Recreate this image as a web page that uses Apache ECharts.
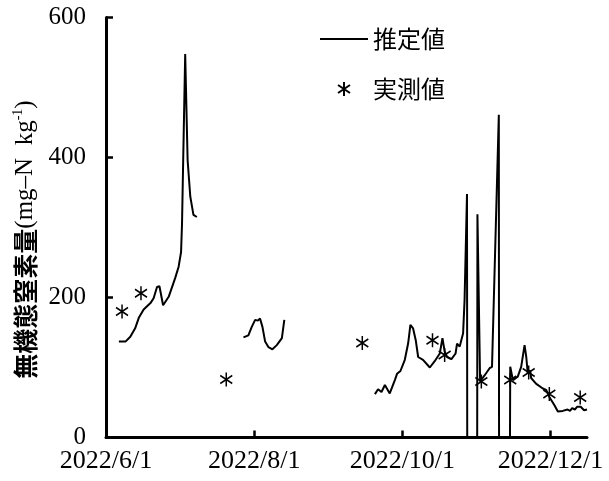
<!DOCTYPE html>
<html>
<head>
<meta charset="utf-8">
<script src="https://cdn.jsdelivr.net/npm/echarts@6/dist/echarts.min.js"></script>
<style>
html, body { margin: 0; padding: 0; background: #fff; }
#chart { width: 609px; height: 481px; }
</style>
</head>
<body>
<div id="chart"></div>
<script>
// days counted from 2022/6/1
const xTickDays = [0, 61, 122, 183]
const xTickLabels = ['2022/6/1', '2022/8/1', '2022/10/1', '2022/12/1']
const yTicks = [0, 200, 400, 600]

// 推定値 (gaps between the three periods)
const estDays1 = [5.3, 8, 10, 12, 13.5, 15.5, 18.3, 19.6, 21, 22, 23.5, 25.8, 28.5, 29.9, 30.9, 31.3, 31.7, 32.6, 33.6, 34.7, 36, 37.4]
const estVals1 = [137, 137, 144, 156, 171, 183, 192, 199, 215, 216, 189, 201, 228, 244, 265, 306, 382, 548, 396, 344, 318, 315]

const estDays2 = [56.6, 58.6, 60, 61.4, 62.5, 63.4, 64.4, 65.5, 66.9, 68.5, 70.3, 72.4, 73.4]
const estVals2 = [143, 146, 158, 168, 167, 170, 158, 137, 129, 126, 132, 142, 168]

const estDays3 = [110.7, 112, 113.4, 114.8, 116.8, 118.9, 119.8, 121.2, 123, 124.4, 125.3, 126.4, 127.5, 128.5, 130.5, 133.3, 135.3, 137.4, 138.5, 139.4, 140.4, 142.2, 143.9, 144.5, 145.6, 146.3, 147, 147.6, 148.6, 148.7, 152.8, 152.9, 154, 155.9, 157.9, 158.9, 161.7, 161.8, 166.3, 166.4, 167.5, 169.5, 170.9, 172.3, 173, 173.6, 174.6, 175, 177, 179.8, 181.2, 182.5, 184.6, 186, 188, 190, 191, 191.9, 193, 194, 195.4, 196.8, 198]
const estVals3 = [62, 69, 65, 75, 63, 82, 91, 95, 111, 135, 161, 156, 139, 115, 111, 100, 109, 120, 142, 123, 115, 112, 120, 134, 130, 132, 149, 196, 348, 0, 0, 319, 80, 89, 99, 101, 461, 0, 0, 101, 82, 87, 101, 132, 115, 92, 96, 85, 77, 70, 68, 58, 46, 37, 38, 40, 38, 42, 40, 44, 44, 39, 40]

// 実測値
const obsDays = [6.6, 14.4, 49.5, 105.5, 134.4, 139.4, 154.5, 166.4, 174, 182.5, 195.2]
const obsVals = [180, 206, 83, 135, 139, 118, 80, 82, 93, 62, 57]

const starPath = 'path://M6 0 L6 14 M0 3 L12 11 M0 11 L12 3'
const linePath = 'path://M0 0 L48 0 L48 2 L0 2 Z'

function pairs (days, vals) {
  return days.map(function (d, i) { return [d, vals[i]] })
}

let estData = pairs(estDays1, estVals1)
  .concat([[46, '-']])
  .concat(pairs(estDays2, estVals2))
  .concat([[90, '-']])
  .concat(pairs(estDays3, estVals3))

let chartDom = document.getElementById('chart')
let myChart = echarts.init(chartDom)
let option

option = {
  animation: false,
  grid: {
    left: 106,
    right: 22,
    top: 17.5,
    bottom: 43.5
  },
  legend: {
    orient: 'vertical',
    left: 320,
    top: 26,
    padding: 0,
    itemWidth: 48,
    itemHeight: 14,
    itemGap: 24,
    textStyle: {
      fontFamily: 'Noto Sans CJK JP',
      fontSize: 24,
      lineHeight: 26,
      color: '#000'
    },
    data: [
      { name: '推定値', icon: linePath },
      { name: '実測値', icon: starPath }
    ]
  },
  xAxis: {
    type: 'value',
    min: 0,
    max: 198,
    splitLine: { show: false },
    axisLine: { lineStyle: { color: '#000', width: 3 } },
    axisTick: {
      inside: true,
      length: 7,
      customValues: xTickDays,
      lineStyle: { color: '#000', width: 2.5 }
    },
    axisLabel: {
      customValues: xTickDays,
      margin: 11,
      color: '#000',
      fontFamily: 'Liberation Serif',
      fontSize: 26,
      formatter: function (v) {
        let i = xTickDays.indexOf(v)
        return i >= 0 ? xTickLabels[i] : ''
      }
    }
  },
  yAxis: {
    type: 'value',
    min: yTicks[0],
    max: yTicks[yTicks.length - 1],
    interval: 200,
    splitLine: { show: false },
    axisLine: { show: true, lineStyle: { color: '#000', width: 3 } },
    axisTick: {
      show: true,
      inside: true,
      length: 7,
      lineStyle: { color: '#000', width: 2.5 }
    },
    axisLabel: {
      margin: 20,
      color: '#000',
      fontFamily: 'Liberation Serif',
      fontSize: 25
    },
    name: '{a|無機態窒素量}{b|(mg–N  kg}{c|-1}{b|)}',
    nameLocation: 'middle',
    nameRotate: 90,
    nameGap: 64,
    nameTextStyle: {
      padding: [0, 24, 0, 0],
      rich: {
        a: { fontFamily: 'Noto Sans CJK JP', fontSize: 25, fontWeight: 'bold', color: '#000', lineHeight: 27 },
        b: { fontFamily: 'Liberation Serif', fontSize: 25, color: '#000', lineHeight: 27 },
        c: { fontFamily: 'Liberation Serif', fontSize: 14, color: '#000', verticalAlign: 'top', lineHeight: 16 }
      }
    }
  },
  series: [
    {
      name: '推定値',
      type: 'line',
      data: estData,
      showSymbol: false,
      symbol: 'none',
      connectNulls: false,
      lineStyle: { color: '#000', width: 2 },
      itemStyle: { color: '#000' }
    },
    {
      name: '実測値',
      type: 'scatter',
      data: pairs(obsDays, obsVals),
      symbol: starPath,
      symbolSize: [12, 14],
      itemStyle: { color: '#000', borderColor: '#000', borderWidth: 1.6, opacity: 1 }
    }
  ]
}
option && myChart.setOption(option)
</script>
</body>
</html>
